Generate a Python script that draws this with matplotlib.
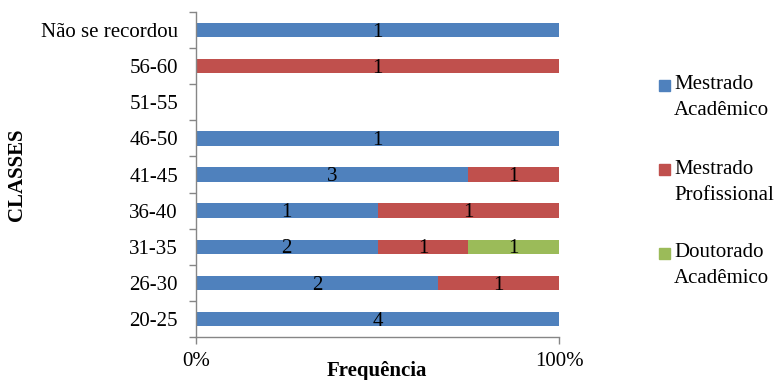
import matplotlib.pyplot as plt
from matplotlib.patches import Rectangle
import numpy as np

plt.rcParams['font.family'] = ['Liberation Serif', 'DejaVu Serif']

classes = ["20-25", "26-30", "31-35", "36-40", "41-45", "46-50", "51-55", "56-60", "Não se recordou"]
mestrado_academico = [4, 2, 2, 1, 3, 1, 0, 0, 1]
mestrado_profissional = [0, 1, 1, 1, 1, 0, 0, 1, 0]
doutorado_academico = [0, 0, 1, 0, 0, 0, 0, 0, 0]

series = [
    ("Mestrado\nAcadêmico", mestrado_academico, "#4F81BD"),
    ("Mestrado\nProfissional", mestrado_profissional, "#C0504D"),
    ("Doutorado\nAcadêmico", doutorado_academico, "#9BBB59"),
]

FS = 15
W, H = 777, 380

counts = np.array([s[1] for s in series], dtype=float)
totals = counts.sum(axis=0)
safe = np.where(totals == 0, 1, totals)
shares = counts / safe

fig = plt.figure(figsize=(W / 100, H / 100), dpi=100)
ax = fig.add_axes([196 / W, 1 - 337 / H, (559 - 196) / W, (337 - 12) / H])

y = np.arange(len(classes))
left = np.zeros(len(classes))
for (name, vals, color), frac in zip(series, shares):
    ax.barh(y, frac, left=left, height=0.4, color=color, label=name)
    for yi, (v, f, l) in enumerate(zip(vals, frac, left)):
        if v > 0:
            ax.text(l + f / 2, yi - 0.06, str(v), ha="center", va="center", fontsize=FS)
    left += frac

ax.set_xlim(0, 1)
ax.set_ylim(-0.5, len(classes) - 0.5)

# category ticks sit on the boundaries, labels in the middle
ax.set_yticks(np.arange(-0.5, len(classes), 1))
ax.set_yticklabels([])
ax.set_yticks(y, minor=True)
ax.set_yticklabels(classes, minor=True, fontsize=FS)
ax.tick_params(axis="y", which="major", length=5, color="#868686", width=1)
ax.tick_params(axis="y", which="minor", length=0, pad=13)

ax.set_xticks([0, 1])
ax.set_xticklabels(["0%", "100%"], fontsize=FS)
ax.tick_params(axis="x", length=5, color="#868686", width=1, pad=6)

for side in ["top", "right"]:
    ax.spines[side].set_visible(False)
for side in ["left", "bottom"]:
    ax.spines[side].set_color("#868686")
    ax.spines[side].set_linewidth(1)

fig.text(377 / W, 1 - 371 / H, "Frequência", ha="center", va="center",
         fontsize=FS, fontweight="bold")
fig.text(17 / W, 1 - 175 / H, "CLASSES", ha="center", va="center",
         rotation=90, fontsize=FS, fontweight="bold")

# legend: square beside the first line of each two-line label
for (name, vals, color), top in zip(series, [85, 170, 253]):
    fig.add_artist(Rectangle((659 / W, 1 - (top + 5.5) / H), 11 / W, 11 / H,
                             transform=fig.transFigure, color=color))
    fig.text(674 / W, 1 - (top + 12.5) / H, name, ha="left", va="center",
             fontsize=FS, linespacing=1.45)

fig.savefig("out.png", dpi=100)
